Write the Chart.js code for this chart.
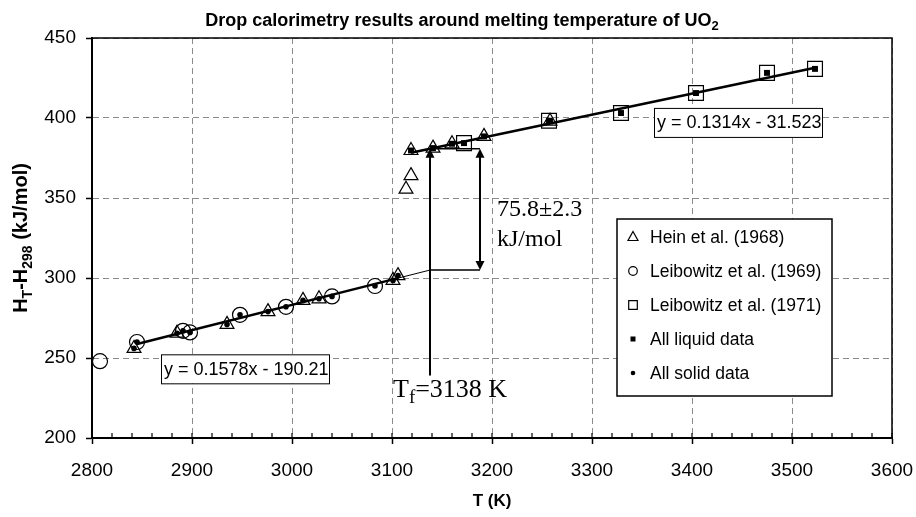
<!DOCTYPE html>
<html>
<head>
<meta charset="utf-8">
<script src="https://cdn.jsdelivr.net/npm/chart.js@4.4.1/dist/chart.umd.min.js"></script>
<style>
  html, body { margin: 0; padding: 0; background: #fff; }
  #wrap { width: 916px; height: 517px; position: relative; }
</style>
</head>
<body>
<div id="wrap"><canvas id="chart"></canvas></div>
<script>
// Enthalpy increments H_T - H_298 (kJ/mol) against temperature T (K)
const heinT = [2842, 2885, 2935, 2976, 3011, 3027, 3101, 3106, 3114, 3119, 3119, 3141, 3160, 3192, 3258];
const heinH = [256, 265.5, 271, 279, 286, 287, 298.5, 301.5, 355.5, 364, 379.7, 381.2, 383.9, 388.5, 398];

const leib69T = [2808, 2845, 2891, 2898, 2948, 2994, 3040, 3083];
const leib69H = [248, 260, 267, 266, 277, 282, 288.5, 295];

const leib71T = [3172, 3257, 3329, 3404, 3475, 3523];
const leib71H = [384.3, 398.3, 403.1, 415.6, 428.2, 430.7];

// points used in the two fits
const liquidT = [3119, 3141, 3160, 3172, 3192, 3257, 3258, 3329, 3404, 3475, 3523];
const liquidH = [379.7, 381.2, 383.9, 384.3, 388.5, 398.3, 398, 403.1, 415.6, 428.2, 430.7];
const solidT = [2842, 2845, 2885, 2891, 2898, 2935, 2948, 2976, 2994, 3011, 3027, 3040, 3083, 3101, 3106];
const solidH = [256, 260, 265.5, 267, 266, 271, 277, 279, 282, 286, 287, 288.5, 295, 298.5, 301.5];

// linear fits as printed on the plot
const liquidFit = { slope: 0.1314, intercept: -31.523, from: 3119, to: 3523 };
const solidFit = { slope: 0.1578, intercept: -190.21, from: 2845, to: 3106 };
const meltT = 3138;
const gapT = 3188;

const xTicks = [2800, 2900, 3000, 3100, 3200, 3300, 3400, 3500, 3600];
const yTicks = [200, 250, 300, 350, 400, 450];

const SANS = '"Liberation Sans", Arial, Helvetica, sans-serif';
const SERIF = '"Liberation Serif", "Times New Roman", serif';

const pts = (xs, ys) => xs.map((x, i) => ({ x: x, y: ys[i] }));
const fitAt = (f, t) => f.slope * t + f.intercept;
const fitLine = (f, a, b) => [{ x: a, y: fitAt(f, a) }, { x: b, y: fitAt(f, b) }];

function arrowHead(ctx, x, y, dir) {
  // dir = -1 points up, +1 points down
  ctx.beginPath();
  ctx.moveTo(x, y);
  ctx.lineTo(x - 4.5, y - dir * 9);
  ctx.lineTo(x + 4.5, y - dir * 9);
  ctx.closePath();
  ctx.fill();
}

function marker(ctx, kind, x, y) {
  ctx.save();
  ctx.strokeStyle = '#000';
  ctx.fillStyle = '#000';
  ctx.lineWidth = 1.2;
  ctx.beginPath();
  if (kind === 'triangle') {
    ctx.moveTo(x, y - 5.5);
    ctx.lineTo(x + 5, y + 3.5);
    ctx.lineTo(x - 5, y + 3.5);
    ctx.closePath();
    ctx.stroke();
  } else if (kind === 'circle') {
    ctx.arc(x, y, 4.3, 0, Math.PI * 2);
    ctx.stroke();
  } else if (kind === 'square') {
    ctx.rect(x - 4.3, y - 4.3, 8.6, 8.6);
    ctx.stroke();
  } else if (kind === 'smallSquare') {
    ctx.fillRect(x - 2.5, y - 2.5, 5, 5);
  } else {
    ctx.arc(x, y, 2.3, 0, Math.PI * 2);
    ctx.fill();
  }
  ctx.restore();
}

function setSize(ctx, size) {
  ctx.font = ctx.font.replace(/\d+(\.\d+)?px/, size + 'px');
}

function textWithSub(ctx, parts, x, y, size, subSize, subDrop) {
  // parts: [text, isSub] drawn left to right from x on baseline y
  let cx = x;
  for (const [t, sub] of parts) {
    setSize(ctx, sub ? subSize : size);
    ctx.fillText(t, cx, sub ? y + subDrop : y);
    cx += ctx.measureText(t).width;
  }
  return cx - x;
}

function partsWidth(ctx, parts, size, subSize) {
  let w = 0;
  for (const [t, sub] of parts) {
    setSize(ctx, sub ? subSize : size);
    w += ctx.measureText(t).width;
  }
  return w;
}

const decorations = {
  id: 'decorations',
  afterDraw(chart) {
    const { ctx, chartArea: a, scales: { x, y } } = chart;
    const px = v => x.getPixelForValue(v);
    const py = v => y.getPixelForValue(v);
    ctx.save();

    // top and right frame
    ctx.strokeStyle = '#000';
    ctx.lineWidth = 1.5;
    ctx.beginPath();
    ctx.moveTo(a.left, a.top);
    ctx.lineTo(a.right, a.top);
    ctx.lineTo(a.right, a.bottom);
    ctx.stroke();

    // minor ticks on the temperature axis
    ctx.lineWidth = 1.2;
    ctx.beginPath();
    for (let t = 2800; t <= 3600; t += 20) {
      const xx = px(t);
      ctx.moveTo(xx, a.bottom);
      ctx.lineTo(xx, a.bottom - 5);
    }
    ctx.stroke();

    // melting point arrow and enthalpy step
    const xm = px(meltT), xg = px(gapT);
    const yLiq = py(fitAt(liquidFit, meltT));
    const ySol = py(fitAt(solidFit, meltT));
    ctx.fillStyle = '#000';
    ctx.lineWidth = 2;
    ctx.beginPath();
    ctx.moveTo(xm, py(239));
    ctx.lineTo(xm, yLiq + 8);
    ctx.stroke();
    arrowHead(ctx, xm, yLiq, -1);
    ctx.lineWidth = 1.5;
    ctx.beginPath();
    ctx.moveTo(xm, yLiq);
    ctx.lineTo(xg, yLiq);
    ctx.moveTo(xm, ySol);
    ctx.lineTo(xg, ySol);
    ctx.stroke();
    ctx.lineWidth = 2;
    ctx.beginPath();
    ctx.moveTo(xg, yLiq + 8);
    ctx.lineTo(xg, ySol - 8);
    ctx.stroke();
    arrowHead(ctx, xg, yLiq, -1);
    arrowHead(ctx, xg, ySol, 1);

    ctx.fillStyle = '#000';
    ctx.textAlign = 'left';
    ctx.textBaseline = 'alphabetic';
    ctx.font = '24px ' + SERIF;
    ctx.fillText('75.8\u00b12.3', px(3205), py(338.8));
    ctx.fillText('kJ/mol', px(3205), py(320.2));
    ctx.font = '26px ' + SERIF;
    textWithSub(ctx, [['T', false], ['f', true], ['=3138 K', false]], px(3101), py(225.4), 26, 19, 6);

    // fit equations
    const eqBox = (label, tx, hy, w) => {
      const bx = px(tx), by = py(hy);
      ctx.fillStyle = '#fff';
      ctx.fillRect(bx, by, w, 29);
      ctx.strokeStyle = '#000';
      ctx.lineWidth = 1;
      ctx.strokeRect(bx + 0.5, by + 0.5, w, 29);
      ctx.fillStyle = '#000';
      ctx.font = '18px ' + SANS;
      ctx.textBaseline = 'middle';
      ctx.fillText(label, bx + 3, by + 15.5);
    };
    eqBox('y = 0.1314x - 31.523', 3362, 406.3, 168);
    eqBox('y = 0.1578x - 190.21', 2869, 252.3, 168);

    // legend
    const lx = 617, ly = 219, lw = 215, lh = 177;
    ctx.fillStyle = '#fff';
    ctx.fillRect(lx, ly, lw, lh);
    ctx.strokeStyle = '#000';
    ctx.lineWidth = 1.5;
    ctx.strokeRect(lx, ly, lw, lh);
    const entries = [
      ['triangle', 'Hein et al. (1968)'],
      ['circle', 'Leibowitz et al. (1969)'],
      ['square', 'Leibowitz et al. (1971)'],
      ['smallSquare', 'All liquid data'],
      ['dot', 'All solid data']
    ];
    ctx.font = '17.5px ' + SANS;
    ctx.textBaseline = 'middle';
    entries.forEach(([kind, label], i) => {
      const ey = 237 + i * 34;
      marker(ctx, kind, 633, ey);
      ctx.fillStyle = '#000';
      ctx.fillText(label, 650, ey + 1);
    });

    // title
    ctx.textBaseline = 'alphabetic';
    ctx.font = 'bold 18px ' + SANS;
    const titleParts = [['Drop calorimetry results around melting temperature of UO', false], ['2', true]];
    const tw = partsWidth(ctx, titleParts, 18, 13);
    textWithSub(ctx, titleParts, 462 - tw / 2, 26, 18, 13, 4);

    // axis titles
    ctx.font = 'bold 17px ' + SANS;
    ctx.textAlign = 'center';
    ctx.fillText('T (K)', (a.left + a.right) / 2, 506);

    ctx.save();
    ctx.translate(27, (a.top + a.bottom) / 2);
    ctx.rotate(-Math.PI / 2);
    ctx.textAlign = 'left';
    const yParts = [['H', false], ['T', true], ['-H', false], ['298', true], [' (kJ/mol)', false]];
    ctx.font = 'bold 20px ' + SANS;
    const yw = partsWidth(ctx, yParts, 20, 14);
    textWithSub(ctx, yParts, -yw / 2, 0, 20, 14, 5);
    ctx.restore();

    ctx.restore();
  }
};

const openMarker = (style, r) => ({
  pointStyle: style,
  pointRadius: r,
  pointBorderWidth: 1.2,
  borderColor: '#000',
  backgroundColor: 'rgba(255,255,255,0)',
  showLine: false
});

new Chart(document.getElementById('chart'), {
  type: 'scatter',
  data: {
    datasets: [
      Object.assign({ label: 'Hein et al. (1968)', data: pts(heinT, heinH), order: 6 }, openMarker('triangle', 8)),
      Object.assign({ label: 'Leibowitz et al. (1969)', data: pts(leib69T, leib69H), order: 5 }, openMarker('circle', 7.5)),
      Object.assign({ label: 'Leibowitz et al. (1971)', data: pts(leib71T, leib71H), order: 4 }, openMarker('rect', 10.5)),
      {
        type: 'line', label: 'liquid fit', data: fitLine(liquidFit, liquidFit.from, liquidFit.to),
        borderColor: '#000', borderWidth: 2.5, pointRadius: 0, order: 3
      },
      {
        type: 'line', label: 'solid fit', data: fitLine(solidFit, solidFit.from, solidFit.to),
        borderColor: '#000', borderWidth: 2.5, pointRadius: 0, order: 3
      },
      {
        type: 'line', label: 'solid fit to Tf', data: fitLine(solidFit, solidFit.to, meltT),
        borderColor: '#000', borderWidth: 1, pointRadius: 0, order: 3
      },
      {
        label: 'All liquid data', data: pts(liquidT, liquidH), order: 1,
        pointStyle: 'rect', pointRadius: 4.2, pointBorderWidth: 0, backgroundColor: '#000', borderColor: '#000'
      },
      {
        label: 'All solid data', data: pts(solidT, solidH), order: 1,
        pointStyle: 'circle', pointRadius: 2.8, pointBorderWidth: 0, backgroundColor: '#000', borderColor: '#000'
      }
    ]
  },
  options: {
    responsive: true,
    maintainAspectRatio: false,
    animation: false,
    layout: { padding: { top: 38, right: 24, bottom: 0, left: 0 } },
    plugins: { legend: { display: false }, tooltip: { enabled: false } },
    scales: {
      x: {
        type: 'linear', min: xTicks[0], max: xTicks[xTicks.length - 1],
        afterFit: s => { s.height = 79; s.paddingLeft = 0; s.paddingRight = 0; },
        afterBuildTicks: s => { s.ticks = xTicks.map(v => ({ value: v })); },
        ticks: { color: '#000', font: { family: SANS, size: 19 }, padding: 15, maxRotation: 0, callback: v => String(v) },
        grid: { color: '#8a8a8a', lineWidth: 1, tickLength: 6, tickColor: '#000', tickWidth: 1.5 },
        border: { color: '#000', width: 2, dash: [6, 4] }
      },
      y: {
        type: 'linear', min: yTicks[0], max: yTicks[yTicks.length - 1],
        afterFit: s => { s.width = 92; s.paddingTop = 0; s.paddingBottom = 0; },
        afterBuildTicks: s => { s.ticks = yTicks.map(v => ({ value: v })); },
        ticks: { color: '#000', font: { family: SANS, size: 19 }, padding: 10, callback: v => String(v) },
        grid: { color: '#8a8a8a', lineWidth: 1, tickLength: 6, tickColor: '#000', tickWidth: 1.5 },
        border: { color: '#000', width: 2, dash: [6, 4] }
      }
    }
  },
  plugins: [decorations]
});
</script>
</body>
</html>
